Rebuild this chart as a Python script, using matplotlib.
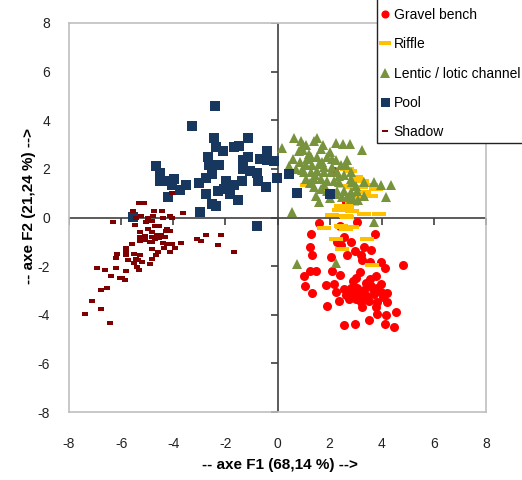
import numpy as np
import matplotlib
matplotlib.use('Agg')
import matplotlib.pyplot as plt
from matplotlib.patches import Rectangle

plt.rcParams['font.family'] = ['Liberation Sans', 'DejaVu Sans']
plt.rcParams['axes.unicode_minus'] = False

# ---- data (F1, F2) ----
gravel_x = [1.59, 2.40, 3.06, 1.29, 2.55, 2.83, 2.30, 2.45, 3.73, 1.24, 1.33, 2.96, 3.30, 3.58,
            3.19, 2.68, 2.04, 3.26, 3.55, 3.96, 4.12, 4.83, 1.46, 1.24, 1.01, 2.10, 2.40, 3.17,
            3.55, 3.77, 1.04, 1.88, 2.17, 2.23, 2.55, 2.81, 3.06, 3.32, 3.58, 3.83, 3.96, 3.70,
            3.45, 3.26, 3.00, 2.74, 2.36, 3.19, 3.51, 3.83, 4.22, 3.77, 3.26, 1.91, 1.31, 4.54,
            4.15, 3.83, 3.51, 4.12, 4.48, 2.55, 2.96, 3.96, 2.81, 2.62, 3.10, 4.05, 4.20, 2.17,
            2.62, 2.90, 3.40, 3.65, 3.00]
gravel_y = [-0.22, -0.33, -0.19, -0.67, -0.81, -1.00, -1.01, -1.15, -0.67, -1.22, -1.53, -1.36,
            -1.22, -1.32, -1.53, -1.56, -1.63, -1.73, -1.84, -1.84, -2.07, -1.95, -2.18, -2.18,
            -2.39, -2.18, -2.36, -2.25, -2.52, -2.39, -2.80, -2.77, -2.73, -3.07, -2.96, -2.91,
            -2.91, -3.00, -2.83, -2.91, -3.07, -3.14, -3.21, -3.28, -3.35, -3.35, -3.42, -3.49,
            -3.42, -3.46, -3.49, -3.69, -3.69, -3.65, -3.11, -3.87, -4.01, -3.97, -4.20, -4.38,
            -4.51, -4.42, -4.40, -2.73, -3.14, -3.20, -3.05, -3.25, -3.10, 1.93, 0.63, -2.60,
            -2.70, -2.95, -2.50]

riffle_x = [2.68, 3.00, 3.06, 3.25, 3.58, 3.19, 2.87, 3.77, 3.32, 2.04, 1.14, 3.58, 3.19, 2.42,
            2.68, 2.36, 2.87, 3.32, 2.62, 3.90, 2.10, 2.87, 2.68, 1.78, 2.42, 2.62, 2.87, 2.23,
            3.42, 2.49, 3.64, 2.80, 2.55, 2.49, 2.81]
riffle_y = [2.00, 1.66, 1.59, 1.52, 1.32, 1.25, 1.25, 1.18, 1.04, 1.04, 1.34, 0.90, 0.84, 0.49,
            0.42, 0.29, 0.25, 0.15, 0.08, 0.15, 0.10, 0.55, 0.01, -0.44, -0.36, -0.47, -0.40,
            -0.88, -0.88, -1.29, -1.95, 1.90, 1.30, -0.40, -0.40]

lentic_x = [0.65, 0.91, 0.99, 1.40, 1.53, 0.18, 0.82, 0.99, 1.65, 1.76, 2.23, 2.53, 2.77, 3.23,
            1.27, 1.14, 1.53, 1.91, 2.10, 2.23, 2.68, 0.88, 1.08, 1.33, 1.59, 1.78, 2.10, 2.42,
            2.62, 1.01, 1.27, 1.53, 1.78, 2.04, 2.30, 2.55, 2.81, 1.08, 1.40, 1.65, 1.91, 2.17,
            2.36, 2.81, 2.87, 3.32, 3.70, 3.96, 4.35, 4.15, 1.40, 1.65, 1.91, 2.30, 2.55, 2.81,
            3.06, 3.32, 1.46, 2.23, 2.49, 2.68, 2.87, 1.59, 2.81, 0.56, 3.70, 0.76, 2.23, 1.20,
            0.60, 0.70, 0.45, 3.00, 3.10, 2.00, 1.80, 2.00, 1.10, 1.45, 1.70, 2.35, 0.95, 1.25]
lentic_y = [3.26, 3.13, 2.99, 3.13, 3.26, 2.85, 2.72, 2.76, 2.83, 2.99, 3.07, 3.03, 3.03, 2.76,
            2.48, 2.41, 2.48, 2.48, 2.41, 2.35, 2.35, 2.28, 2.14, 2.14, 2.21, 2.07, 2.07, 2.14,
            2.14, 1.87, 1.87, 1.93, 1.87, 1.87, 1.87, 1.73, 1.87, 1.59, 1.59, 1.59, 1.52, 1.52,
            1.45, 1.59, 1.45, 1.45, 1.45, 1.32, 1.32, 0.84, 1.25, 1.18, 1.11, 1.11, 1.11, 1.04,
            1.11, 0.90, 0.90, 0.97, 0.84, 0.84, 0.84, 0.63, 0.77, 0.22, -0.19, -1.93, -1.88, 2.60,
            2.40, 2.00, 2.10, 1.30, 0.70, 0.80, 1.35, 2.70, 3.00, 1.75, 2.30, 1.70, 1.95, 1.40]

pool_x = [-2.41, -3.29, -2.45, -1.13, -2.35, -2.10, -1.68, -1.49, -2.67, -4.65, -4.50, -4.50,
          -4.27, -3.96, -4.05, -3.76, -3.52, -4.20, -3.03, -2.64, -2.26, -2.51, -2.74, -2.73,
          -2.51, -2.36, -2.99, -1.97, -2.28, -2.06, -1.81, -1.68, -1.53, -1.38, -1.32, -1.14,
          -1.32, -1.04, -0.78, -0.76, -0.43, -0.42, -0.68, -0.40, -0.14, -0.01, -0.80, -5.55,
          0.43, 0.73, 2.01]
pool_y = [4.57, 3.76, 3.28, 3.28, 2.89, 2.72, 2.89, 2.96, 2.48, 2.13, 1.82, 1.49, 1.49, 1.59,
          1.32, 1.15, 1.32, 0.86, 1.41, 2.14, 2.14, 1.80, 1.63, 0.97, 0.54, 0.49, 0.22, 1.52,
          1.11, 1.18, 0.97, 1.32, 0.73, 1.49, 2.35, 2.48, 2.00, 1.93, 1.82, 1.52, 1.25, 2.72,
          2.41, 2.37, 2.32, 1.63, -0.37, 0.01, 1.78, 1.02, 0.96]

shadow_x = [-5.30, -5.14, -5.55, -4.73, -4.45, -3.64, -5.42, -5.23, -4.98, -4.76, -4.41, -4.13,
            -4.05, -6.33, -5.04, -4.80, -5.46, -4.69, -4.54, -4.23, -4.14, -4.28, -5.27, -4.95,
            -4.82, -4.63, -4.46, -4.33, -4.80, -5.10, -5.27, -5.26, -5.08, -4.88, -4.80, -4.69,
            -4.56, -4.40, -4.23, -4.05, -3.72, -3.07, -2.92, -2.74, -2.17, -2.30, -3.92, -4.37,
            -4.80, -5.81, -5.81, -5.59, -4.13, -4.58, -6.17, -6.20, -5.82, -5.51, -5.27, -4.65,
            -4.82, -5.74, -5.43, -5.36, -5.49, -5.20, -4.90, -5.40, -5.30, -6.91, -6.62, -6.18,
            -5.83, -6.38, -6.04, -5.95, -5.85, -6.56, -6.78, -7.12, -6.78, -7.40, -6.42, -1.67,
            -4.04]
shadow_y = [0.60, 0.60, 0.25, 0.25, 0.25, 0.19, -0.03, 0.05, -0.03, 0.05, -0.03, 0.05, -0.03,
            -0.19, -0.19, -0.15, -0.29, -0.36, -0.36, -0.47, -0.56, -0.56, -0.58, -0.49, -0.58,
            -0.74, -0.74, -0.81, -0.81, -0.77, -0.81, -0.97, -0.92, -0.99, -0.99, -0.88, -0.85,
            -1.04, -1.08, -1.11, -1.04, -0.89, -0.95, -0.74, -0.74, -1.12, -1.25, -1.25, -1.29,
            -1.26, -1.36, -1.08, -1.43, -1.40, -1.52, -1.66, -1.54, -1.52, -1.56, -1.56, -1.70,
            -1.74, -1.70, -1.73, -1.88, -1.84, -1.92, -2.05, -2.14, -2.09, -2.14, -2.06, -2.22,
            -2.40, -2.48, -2.50, -2.59, -2.88, -2.98, -3.43, -3.77, -3.98, -4.33, -1.40, 0.99]

ticks = [-8, -6, -4, -2, 0, 2, 4, 6, 8]

# flat rectangles for the "dash" markers
dash_wide = [(-1, -0.3), (1, -0.3), (1, 0.3), (-1, 0.3)]
dash_small = [(-1, -0.45), (1, -0.45), (1, 0.45), (-1, 0.45)]

fig = plt.figure(figsize=(5.22, 4.80), dpi=100)
ax = fig.add_axes([69 / 522, 68 / 480, 417 / 522, 389 / 480])

ax.plot(gravel_x, gravel_y, ls='none', marker='o', ms=6.5, color='#FF0000', mew=0, label='Gravel bench')
ax.plot(riffle_x, riffle_y, ls='none', marker=dash_wide, ms=9.5, color='#FFC000', mew=0, label='Riffle')
ax.plot(lentic_x, lentic_y, ls='none', marker='^', ms=7.5, color='#77933C', mew=0, label='Lentic / lotic channel')
ax.plot(pool_x, pool_y, ls='none', marker='s', ms=7.2, color='#17375E', mew=0, label='Pool')
ax.plot(shadow_x, shadow_y, ls='none', marker=dash_small, ms=5, color='#7F0000', mew=0, label='Shadow')

ax.set_xlim(-8, 8)
ax.set_ylim(-8, 8)
ax.set_xticks(ticks)
ax.set_yticks(ticks)
ax.tick_params(axis='both', length=0, labelsize=10, colors='#222222')
ax.tick_params(axis='x', pad=18)
ax.tick_params(axis='y', pad=13.5)
for s in ax.spines.values():
    s.set_color('#BFBFBF')
    s.set_linewidth(1.2)

# axes crossing at zero, with tick marks
ax.axhline(0, color='#404040', lw=1.2, zorder=1)
ax.axvline(0, color='#404040', lw=1.2, zorder=1)
ax.plot(ticks, np.zeros(len(ticks)), ls='none', marker=3, ms=5, mew=1.2, color='#404040', zorder=1)
ax.plot(np.zeros(len(ticks)), ticks, ls='none', marker=0, ms=5, mew=1.2, color='#404040', zorder=1)

ax.set_xlabel('-- axe F1 (68,14 %) -->', fontsize=11, fontweight='bold')
ax.set_ylabel('-- axe F2 (21,24 %) -->', fontsize=11, fontweight='bold')
ax.xaxis.set_label_coords(0.506, -0.118)
ax.yaxis.set_label_coords(-0.08, 0.53)

# legend box runs off the top and right edges of the picture
box = Rectangle((377 / 522, 337 / 480), 0.5, 0.5, transform=fig.transFigure,
                facecolor='white', edgecolor='#222222', lw=1.0, zorder=4)
fig.patches.append(box)

leg = fig.legend(loc='upper left', bbox_to_anchor=(381 / 522, 1 - 8 / 480), fontsize=10,
                 frameon=False, handlelength=0.6, handletextpad=0.3, labelspacing=1.1,
                 borderpad=0, borderaxespad=0, markerscale=0.9)
leg.set_zorder(5)

fig.savefig('out.png', dpi=100)
